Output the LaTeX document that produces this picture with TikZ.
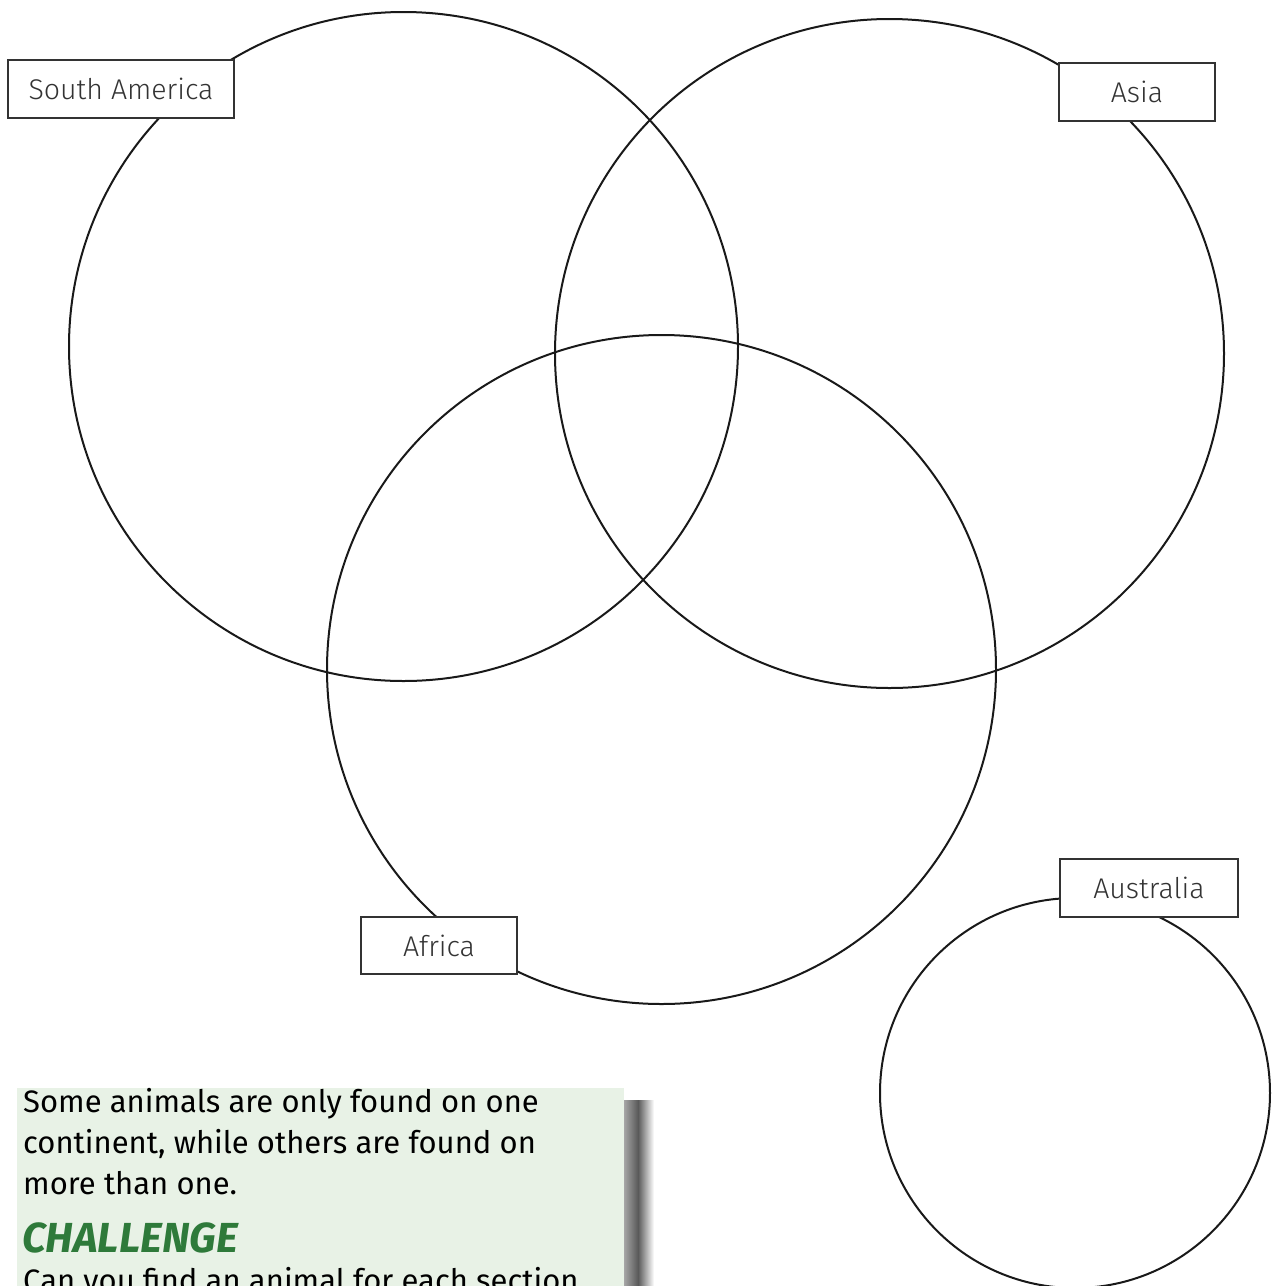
\documentclass[tikz,border=0pt]{standalone}
\usepackage{fontspec}
\setmainfont{Fira Sans}
\newfontfamily\lightfont{Fira Sans Light}
\usetikzlibrary{shadings}
\definecolor{boxgreen}{HTML}{E8F2E6}
\definecolor{chgreen}{HTML}{2E7A3A}
\tikzset{
  ring/.style={circle, draw=black!90, line width=2pt, inner sep=0pt},
  tag/.style={draw=black!80, fill=white, line width=1.3pt, inner sep=0pt,
    font=\lightfont\fontsize{28.5}{32}\selectfont, text=black!80},
}
\begin{document}
\begin{tikzpicture}[x=1pt,y=-1pt]
\useasboundingbox (0,0) rectangle (1272,1286);
\clip (0,0) rectangle (1272,1286);
% circles
\node[ring, minimum size=669pt] (sa) at (403.5,346.5) {};
\node[ring, minimum size=669pt] (as) at (889.5,353.5) {};
\node[ring, minimum size=669pt] (af) at (661.5,669.5) {};
\node[ring, minimum size=390pt] (au) at (1075,1093) {};
% labels
\node[tag, minimum width=226pt, minimum height=58pt] (salab) at (121,89) {South America};
\node[tag, minimum width=156pt, minimum height=58pt] (aslab) at (1137,92) {Asia};
\node[tag, minimum width=156pt, minimum height=57pt] (aflab) at (439,945.5) {Africa};
\node[tag, minimum width=178pt, minimum height=58pt] (aulab) at (1149,888) {Australia};
% info box with shadow
\shade[left color=black!65, right color=white] (638,1100) rectangle (654,1286);
\shade[left color=black!35, right color=black!65] (624,1100) rectangle (638,1286);
\fill[boxgreen] (17,1088) rectangle (624,1290);
\node[anchor=north west, inner sep=0pt, align=left, font=\fontsize{31}{41}\selectfont] (info) at (23,1088)
  {Some animals are only found on one\\continent, while others are found on\\more than one.};
\node[anchor=north west, inner sep=0pt, font=\bfseries\itshape\fontsize{42}{46}\selectfont, text=chgreen] (chal) at (22,1222) {CHALLENGE};
\node[anchor=north west, inner sep=0pt, font=\fontsize{31}{41}\selectfont] (ask) at (23,1267) {Can you find an animal for each section};
\end{tikzpicture}
\end{document}
